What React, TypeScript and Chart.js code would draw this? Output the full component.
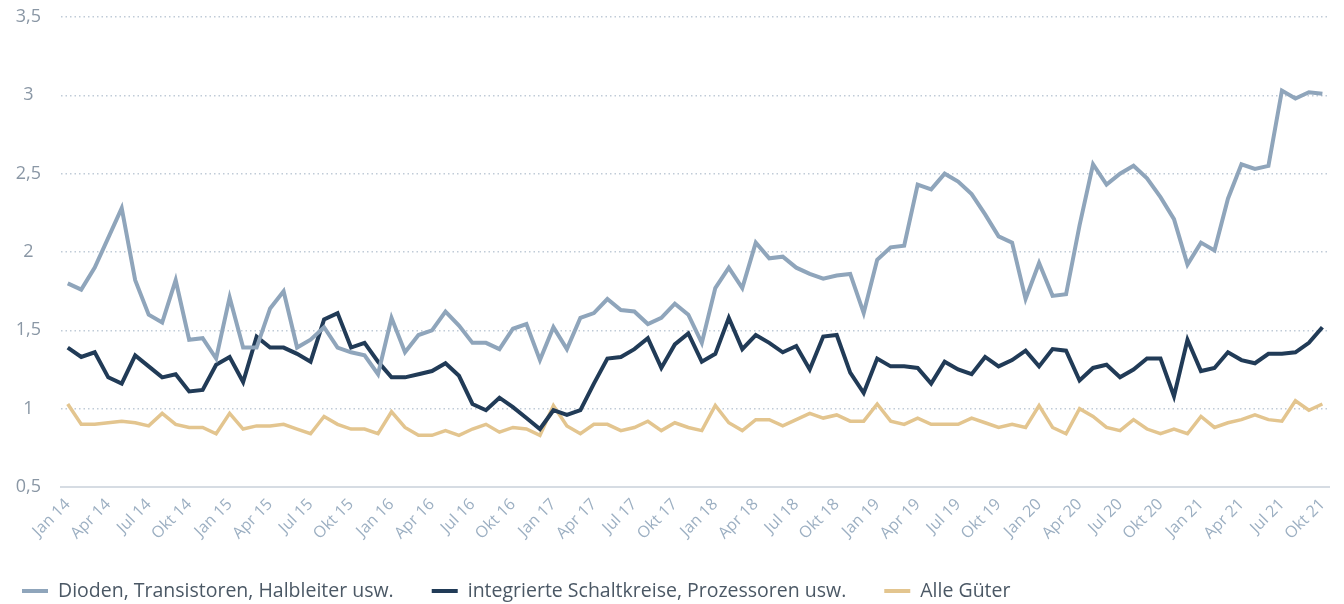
import React, { useEffect, useRef } from 'react';
import { Chart, registerables } from 'chart.js';

Chart.register(...registerables);

const MONTHS = ['Jan', 'Feb', 'Mär', 'Apr', 'Mai', 'Jun', 'Jul', 'Aug', 'Sep', 'Okt', 'Nov', 'Dez'];
const YEARS = ['14', '15', '16', '17', '18', '19', '20', '21'];
const MONTHS_IN_LAST_YEAR = 10;

const labels: string[] = [];
YEARS.forEach((y, yi) => {
  const n = yi === YEARS.length - 1 ? MONTHS_IN_LAST_YEAR : 12;
  for (let m = 0; m < n; m++) labels.push(`${MONTHS[m]} ${y}`);
});

const SERIES_NAMES = [
  'Dioden, Transistoren, Halbleiter usw.',
  'integrierte Schaltkreise, Prozessoren usw.',
  'Alle Güter',
];

const dioden = [
  1.80, 1.76, 1.90, 2.09, 2.28, 1.82, 1.60, 1.55, 1.82, 1.44, 1.45, 1.32,
  1.71, 1.39, 1.39, 1.64, 1.75, 1.39, 1.44, 1.52, 1.39, 1.36, 1.34, 1.22,
  1.58, 1.36, 1.47, 1.50, 1.62, 1.53, 1.42, 1.42, 1.38, 1.51, 1.54, 1.31,
  1.52, 1.38, 1.58, 1.61, 1.70, 1.63, 1.62, 1.54, 1.58, 1.67, 1.60, 1.42,
  1.77, 1.90, 1.77, 2.06, 1.96, 1.97, 1.90, 1.86, 1.83, 1.85, 1.86, 1.61,
  1.95, 2.03, 2.04, 2.43, 2.40, 2.50, 2.45, 2.37, 2.24, 2.10, 2.06, 1.70,
  1.93, 1.72, 1.73, 2.17, 2.56, 2.43, 2.50, 2.55, 2.47, 2.35, 2.21, 1.92,
  2.06, 2.01, 2.34, 2.56, 2.53, 2.55, 3.03, 2.98, 3.02, 3.01,
];

const integrierte = [
  1.39, 1.33, 1.36, 1.20, 1.16, 1.34, 1.27, 1.20, 1.22, 1.11, 1.12, 1.28,
  1.33, 1.17, 1.46, 1.39, 1.39, 1.35, 1.30, 1.57, 1.61, 1.39, 1.42, 1.30,
  1.20, 1.20, 1.22, 1.24, 1.29, 1.21, 1.03, 0.99, 1.07, 1.01, 0.94, 0.87,
  0.99, 0.96, 0.99, 1.16, 1.32, 1.33, 1.38, 1.45, 1.26, 1.41, 1.48, 1.30,
  1.35, 1.58, 1.38, 1.47, 1.42, 1.36, 1.40, 1.25, 1.46, 1.47, 1.23, 1.10,
  1.32, 1.27, 1.27, 1.26, 1.16, 1.30, 1.25, 1.22, 1.33, 1.27, 1.31, 1.37,
  1.27, 1.38, 1.37, 1.18, 1.26, 1.28, 1.20, 1.25, 1.32, 1.32, 1.08, 1.44,
  1.24, 1.26, 1.36, 1.31, 1.29, 1.35, 1.35, 1.36, 1.42, 1.52,
];

const alleGueter = [
  1.03, 0.90, 0.90, 0.91, 0.92, 0.91, 0.89, 0.97, 0.90, 0.88, 0.88, 0.84,
  0.97, 0.87, 0.89, 0.89, 0.90, 0.87, 0.84, 0.95, 0.90, 0.87, 0.87, 0.84,
  0.98, 0.88, 0.83, 0.83, 0.86, 0.83, 0.87, 0.90, 0.85, 0.88, 0.87, 0.83,
  1.02, 0.89, 0.84, 0.90, 0.90, 0.86, 0.88, 0.92, 0.86, 0.91, 0.88, 0.86,
  1.02, 0.91, 0.86, 0.93, 0.93, 0.89, 0.93, 0.97, 0.94, 0.96, 0.92, 0.92,
  1.03, 0.92, 0.90, 0.94, 0.90, 0.90, 0.90, 0.94, 0.91, 0.88, 0.90, 0.88,
  1.02, 0.88, 0.84, 1.00, 0.95, 0.88, 0.86, 0.93, 0.87, 0.84, 0.87, 0.84,
  0.95, 0.88, 0.91, 0.93, 0.96, 0.93, 0.92, 1.05, 0.99, 1.03,
];

const COLORS = ['#8fa5bb', '#213b57', '#e3c58f'];
const FONT = '"Open Sans", "DejaVu Sans", sans-serif';

const bottomLegend = {
  id: 'bottomLegend',
  afterDraw(chart: any) {
    const ctx = chart.ctx as CanvasRenderingContext2D;
    ctx.save();
    ctx.font = `19.5px ${FONT}`;
    ctx.textBaseline = 'middle';
    ctx.textAlign = 'left';
    let x = 22;
    const y = 591;
    chart.data.datasets.forEach((ds: any) => {
      ctx.strokeStyle = ds.borderColor;
      ctx.lineWidth = 4;
      ctx.lineCap = 'butt';
      ctx.beginPath();
      ctx.moveTo(x, y);
      ctx.lineTo(x + 26, y);
      ctx.stroke();
      x += 36;
      ctx.fillStyle = '#4b5865';
      ctx.fillText(ds.label, x, y);
      x += ctx.measureText(ds.label).width + 38;
    });
    ctx.restore();
  },
};

export default function App() {
  const canvasRef = useRef<HTMLCanvasElement | null>(null);

  useEffect(() => {
    if (!canvasRef.current) return;
    const series = [dioden, integrierte, alleGueter];
    const chart = new Chart(canvasRef.current, {
      type: 'line',
      data: {
        labels,
        datasets: series.map((d, i) => ({
          label: SERIES_NAMES[i],
          data: d,
          borderColor: COLORS[i],
          backgroundColor: COLORS[i],
          borderWidth: i === 2 ? 3.5 : 4,
          pointRadius: 0,
          tension: 0,
          fill: false,
        })),
      },
      options: {
        animation: false,
        responsive: true,
        maintainAspectRatio: false,
        layout: { padding: { top: 17, right: 7, bottom: 57, left: 0 } },
        plugins: {
          legend: { display: false },
          tooltip: { enabled: false },
        },
        scales: {
          x: {
            offset: true,
            afterFit: (scale: any) => {
              scale.height = 60;
            },
            grid: { display: false, drawTicks: false },
            border: { display: true, color: '#d6dce3', width: 2 },
            ticks: {
              autoSkip: false,
              maxRotation: 45,
              minRotation: 45,
              padding: 8,
              color: '#9cafc2',
              font: { family: FONT, size: 16 },
              callback: (_v: any, idx: number) => (idx % 3 === 0 ? labels[idx] : ''),
            },
          },
          y: {
            min: 0.5,
            max: 3.5,
            afterFit: (scale: any) => {
              scale.width = 61;
              scale.paddingTop = 0;
              scale.paddingBottom = 0;
            },
            grid: { color: '#c0cbd7', lineWidth: 1.5, drawTicks: false },
            border: { display: false, dash: [1.5, 3] },
            ticks: {
              stepSize: 0.5,
              crossAlign: 'center',
              padding: 20,
              color: '#8a97a5',
              font: { family: FONT, size: 18 },
              callback: (v: any) => String(v).replace('.', ','),
            },
          },
        },
      },
      plugins: [bottomLegend],
    });
    return () => chart.destroy();
  }, []);

  return (
    <div style={{ position: 'absolute', left: 0, top: 0, width: 1344, height: 604, background: '#fff' }}>
      <canvas ref={canvasRef} />
    </div>
  );
}
